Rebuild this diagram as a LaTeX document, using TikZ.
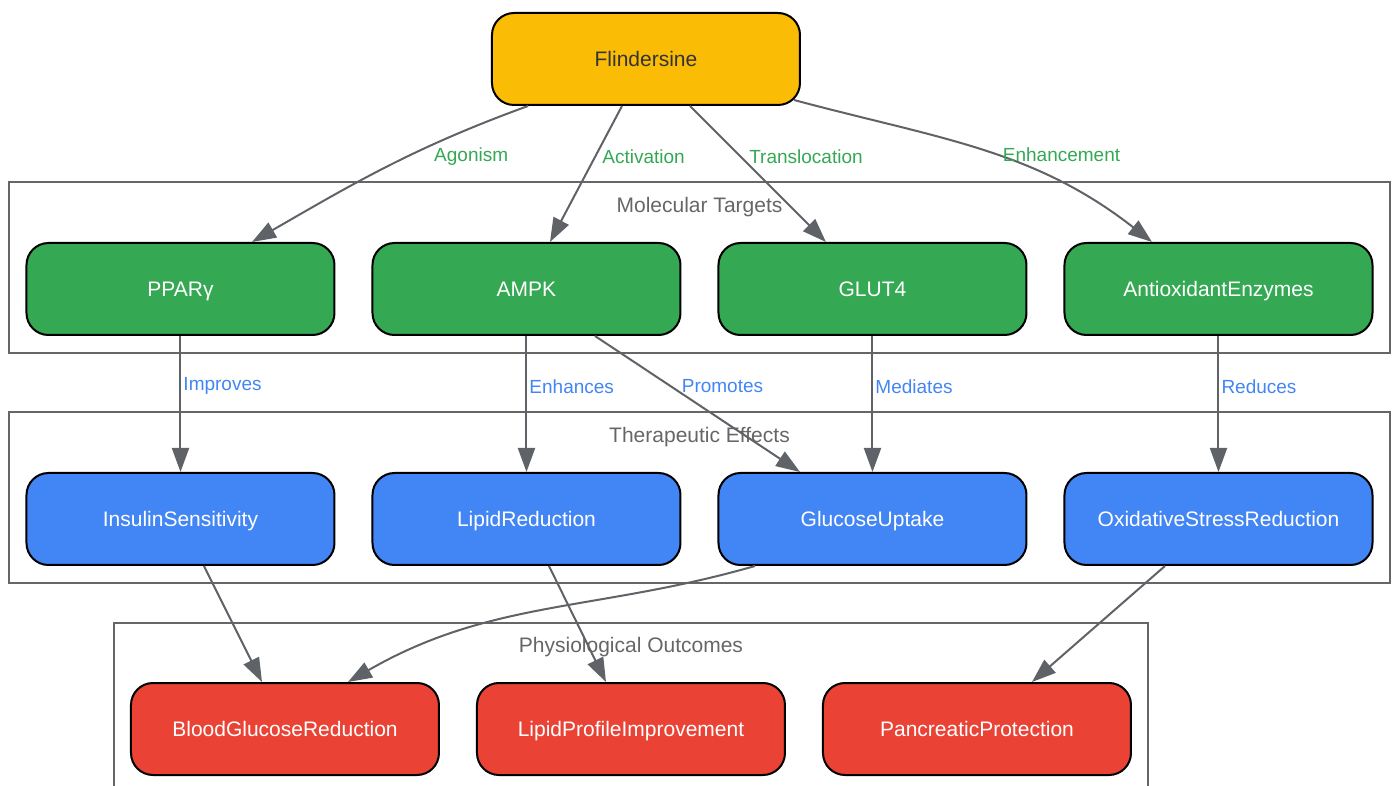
\documentclass[tikz,border=0pt]{standalone}
\usepackage{fontspec}
\setmainfont{Liberation Sans}
\usepackage{tikz}
\usetikzlibrary{calc}
\usetikzlibrary{shapes}
\usetikzlibrary{arrows.meta}
\usetikzlibrary{fit,positioning}

\definecolor{gyellow}{HTML}{FBBC05}
\definecolor{ggreen}{HTML}{34A853}
\definecolor{gblue}{HTML}{4285F4}
\definecolor{gred}{HTML}{EA4335}
\definecolor{edgegray}{HTML}{5F6368}
\definecolor{boxgray}{HTML}{666666}

\begin{document}
\begin{tikzpicture}
  \tikzstyle{main}=[rectangle, rounded corners=11pt, minimum width=154pt, minimum height=46pt, inner sep=0pt, text height=8.6pt, text depth=1.2pt, line width=1pt, draw=black, text=white, font=\fontsize{10.5}{12}\selectfont]
  \tikzstyle{connect}=[-{Triangle[length=12pt, width=8.5pt]}, line width=1pt, draw=edgegray]
  \tikzstyle{box}=[rectangle, draw=boxgray, line width=1pt, inner xsep=8pt, inner ysep=19.25pt, yshift=10.5pt]
  \tikzstyle{boxlabel}=[anchor=north, yshift=-4.5pt, text=boxgray, font=\fontsize{10.5}{12}\selectfont]
  \tikzstyle{elabel}=[anchor=west, inner sep=1pt, font=\fontsize{9.5}{11}\selectfont]
    \node[main, fill=gyellow, text=black!80] (flind) {Flindersine};
    \useasboundingbox ([shift={(-323pt,29.5pt)}]flind.center) rectangle ++(697pt,-393pt);
    % molecular targets
    \node[main, fill=ggreen] (ampk) [below=68pt of flind, xshift=-59.75pt] {AMPK};
    \node[main, fill=ggreen] (pparg) [left=18pt of ampk] {PPARγ};
    \node[main, fill=ggreen] (glut) [right=18pt of ampk] {GLUT4};
    \node[main, fill=ggreen] (antiox) [right=18pt of glut] {AntioxidantEnzymes};
    % therapeutic effects
    \node[main, fill=gblue] (insulin) [below=68pt of pparg] {InsulinSensitivity};
    \node[main, fill=gblue] (lipidred) [below=68pt of ampk] {LipidReduction};
    \node[main, fill=gblue] (glucose) [below=68pt of glut] {GlucoseUptake};
    \node[main, fill=gblue] (oxid) [below=68pt of antiox] {OxidativeStressReduction};
    % physiological outcomes
    \node[main, fill=gred] (lipidprof) [below=58pt of lipidred, xshift=52.25pt] {LipidProfileImprovement};
    \node[main, fill=gred] (blood) [left=18pt of lipidprof] {BloodGlucoseReduction};
    \node[main, fill=gred] (pancr) [right=18pt of lipidprof] {PancreaticProtection};

    \node[box, fit=(pparg) (antiox), label={[boxlabel]north:Molecular Targets}] (moltgt) {};
    \node[box, fit=(insulin) (oxid), label={[boxlabel]north:Therapeutic Effects}] (thereff) {};
    \node[box, fit=(blood) (pancr), label={[boxlabel]north:Physiological Outcomes}] (physout) {};

    \path ([xshift=-59pt]flind.south) edge [connect, out=200, in=30] node[elabel, text=ggreen, pos=0.3, xshift=-3.5pt, yshift=-7pt] {Agonism} ([xshift=35.75pt]pparg.north)
          ([xshift=-12pt]flind.south) edge [connect] node[elabel, text=ggreen, pos=0.37, xshift=2pt] {Activation} ([xshift=11.75pt]ampk.north)
          ([xshift=22pt]flind.south) edge [connect] node[elabel, text=ggreen, pos=0.37, xshift=3pt] {Translocation} ([xshift=-23.25pt]glut.north)
          ([xshift=74pt, yshift=3pt]flind.south) edge [connect, out=-15, in=142] node[elabel, text=ggreen, pos=0.55, yshift=1pt] {Enhancement} ([xshift=-33.25pt]antiox.north);
    \path (pparg) edge [connect] node[elabel, text=gblue, pos=0.37] {Improves} (insulin)
          (ampk) edge [connect] node[elabel, text=gblue, pos=0.37] {Enhances} (lipidred)
          ([xshift=34.25pt]ampk.south) edge [connect] node[elabel, text=gblue, pos=0.37, xshift=4pt] {Promotes} ([xshift=-36.25pt]glucose.north)
          (glut) edge [connect] node[elabel, text=gblue, pos=0.37] {Mediates} (glucose)
          (antiox) edge [connect] node[elabel, text=gblue, pos=0.37] {Reduces} (oxid);
    \path ([xshift=11.75pt]insulin.south) edge [connect] ([xshift=-11.5pt]blood.north)
          ([xshift=11.25pt]lipidred.south) edge [connect] ([xshift=-12.5pt]lipidprof.north)
          ([xshift=-58.75pt]glucose.south) edge [connect, out=196, in=30] ([xshift=31.5pt]blood.north)
          ([xshift=-26.75pt]oxid.south) edge [connect] ([xshift=27.5pt]pancr.north);
  \end{tikzpicture}
\end{document}
